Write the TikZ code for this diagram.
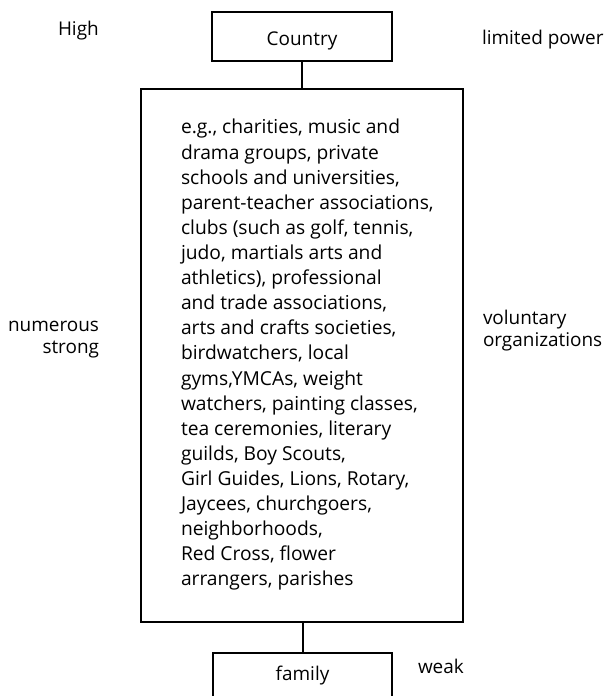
\documentclass[tikz,border=0pt]{standalone}
\usepackage{fontspec}
\setmainfont{Open Sans}
\begin{document}
\begin{tikzpicture}[x=1bp,y=-1bp,
  txt/.style={font=\fontsize{19}{22}\selectfont, inner sep=0pt, outer sep=0pt},
  listtxt/.style={font=\fontsize{19.3}{25.2}\selectfont, inner sep=0pt, outer sep=0pt},
  side/.style={font=\fontsize{19}{22}\selectfont, inner sep=0pt, outer sep=0pt},
  box/.style={draw, line width=2bp, inner sep=0pt, outer sep=0pt},
  link/.style={line width=2bp}]
\useasboundingbox (0,0) rectangle (609,696);
% top box
\node[box, txt, anchor=base, minimum width=180bp, text height=33.4bp, text depth=15bp] (country) at (302,45.7) {Country};
% big box
\node[box, anchor=north west, minimum width=322bp, minimum height=532bp] (orgs) at (140.5,89.5) {};
\node[listtxt, anchor=north west, align=left] (list) at (181,116.4) {\strut e.g., charities, music and\\
drama groups, private\\
schools and universities,\\
parent-teacher associations,\\
clubs (such as golf, tennis,\\
judo, martials arts and\\
athletics), professional\\
and trade associations,\\
arts and crafts societies,\\
birdwatchers, local\\
gyms,YMCAs, weight\\
watchers, painting classes,\\
tea ceremonies, literary\\
guilds, Boy Scouts,\\
Girl Guides, Lions, Rotary,\\
Jaycees, churchgoers,\\
neighborhoods,\\
Red Cross, flower\\
arrangers, parishes};
% bottom box
\node[box, txt, anchor=base, minimum width=179bp, text height=27bp, text depth=45bp] (family) at (302.5,680) {family};
% connectors
\draw[link] (country.south) -- (country.south |- orgs.north);
\draw[link] (orgs.south -| family.north) -- (family.north);
% side labels
\node[side, anchor=base west] (high) at (58,36) {High};
\node[side, anchor=base west] (limited) at (482,45) {limited power};
\node[side, anchor=north east, align=right] (numerous) at (99,316.6) {\strut numerous\\strong};
\node[side, anchor=north west, align=left] (voluntary) at (483,309.6) {\strut voluntary\\organizations};
\node[side, anchor=base west] (weak) at (418,673) {weak};
\end{tikzpicture}
\end{document}
